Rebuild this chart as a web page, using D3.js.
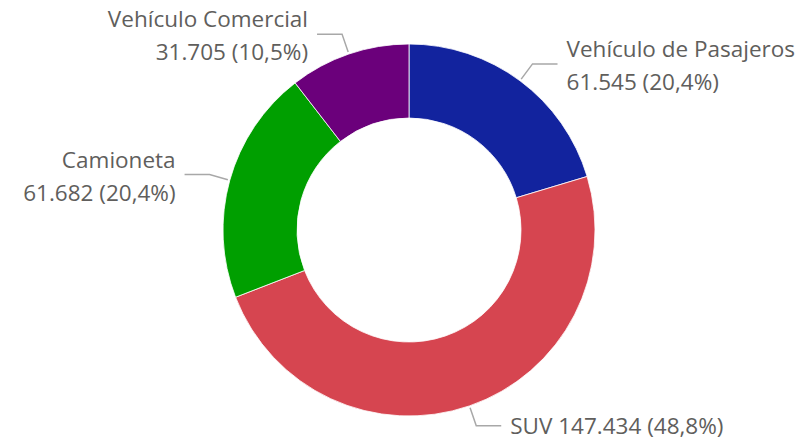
<!DOCTYPE html>
<html>
<head>
<meta charset="utf-8">
<script src="https://cdn.jsdelivr.net/npm/d3@7"></script>
<style>
  body { margin: 0; background: #fff; }
  text { font-family: "Segoe UI", "Open Sans", sans-serif; fill: #605e5c; }
</style>
</head>
<body>
<svg id="chart"></svg>
<script>
// donut data, clockwise from 12 o'clock
var categories = ["Vehículo de Pasajeros", "SUV", "Camioneta", "Vehículo Comercial"];
var values = [61545, 147434, 61682, 31705];
var colors = ["#12239e", "#d64550", "#009f00", "#6b007b"];
// label layout: "two" = name above numbers, "one" = all on one line
var labelMode = ["two", "one", "two", "two"];

var width = 805, height = 445;
var cx = 409, cy = 230,
    outerR = 186, innerR = 112;

var locale = d3.formatLocale({decimal: ",", thousands: ".", grouping: [3], currency: ["", "€"]});
var fmtNum = locale.format(",d");
var fmtPct = locale.format(".1%");

var total = d3.sum(values);
var data = categories.map(function (c, i) {
    return {name: c, value: values[i], color: colors[i], mode: labelMode[i]};
});

var svg = d3.select("#chart")
    .attr("width", width)
    .attr("height", height);

var g = svg.append("g")
    .attr("transform", "translate(" + cx + "," + cy + ")");

var pie = d3.pie()
    .sort(null)
    .value(function (d) { return d.value; });

var arc = d3.arc()
    .innerRadius(innerR)
    .outerRadius(outerR);

var arcs = pie(data);

g.selectAll("path.slice")
    .data(arcs)
    .enter().append("path")
    .attr("class", "slice")
    .attr("d", arc)
    .style("fill", function (d) { return d.data.color; })
    .style("stroke", "#fff")
    .style("stroke-width", 0.8);

// leader lines
function midAngle(d) { return (d.startAngle + d.endAngle) / 2; }
function polar(r, a) { return [r * Math.sin(a), -r * Math.cos(a)]; }

var lines = arcs.map(function (d) {
    var a = midAngle(d);
    var p0 = polar(outerR + 2, a);
    var p1 = polar(outerR + 21, a);
    var side = Math.sin(a) >= 0 ? 1 : -1;
    var p2 = [p1[0] + side * 25, p1[1]];
    return {d: d, pts: [p0, p1, p2], side: side};
});

g.selectAll("polyline")
    .data(lines)
    .enter().append("polyline")
    .attr("points", function (l) { return l.pts.map(function (p) { return p.join(","); }).join(" "); })
    .style("fill", "none")
    .style("stroke", "#a8a8a8")
    .style("stroke-width", 1.5);

var labels = g.selectAll("text.lbl")
    .data(lines)
    .enter().append("text")
    .attr("class", "lbl")
    .style("font-size", "22.5px")
    .attr("text-anchor", function (l) { return l.side > 0 ? "start" : "end"; })
    .attr("transform", function (l) {
        var p = l.pts[2];
        return "translate(" + (p[0] + l.side * 9) + "," + p[1] + ")";
    });

labels.each(function (l) {
    var t = d3.select(this);
    var d = l.d.data;
    var nums = fmtNum(d.value) + " (" + fmtPct(d.value / total) + ")";
    if (d.mode === "one") {
        t.append("tspan").attr("x", 0).attr("y", 8).text(d.name + " " + nums);
    } else {
        t.append("tspan").attr("x", 0).attr("y", -7).text(d.name);
        t.append("tspan").attr("x", 0).attr("y", 26).text(nums);
    }
});
</script>
</body>
</html>
